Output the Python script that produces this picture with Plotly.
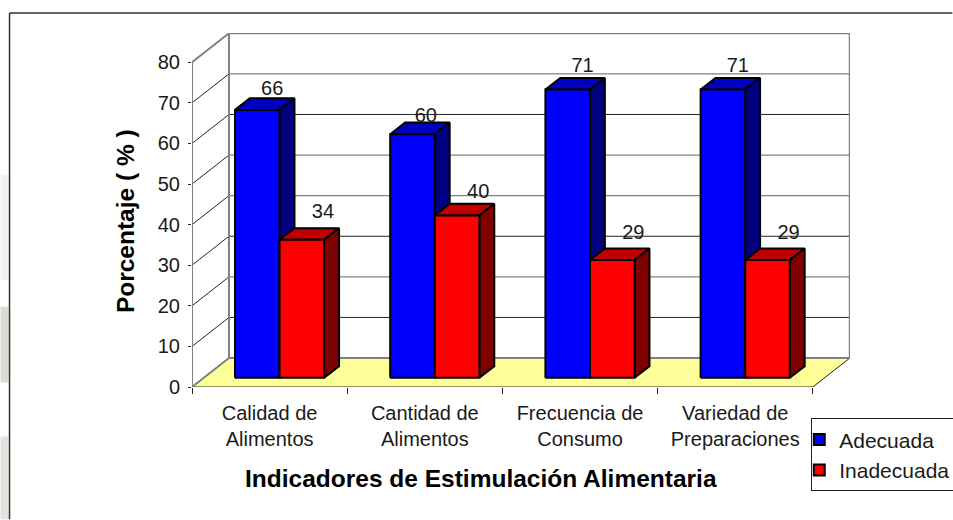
import plotly.graph_objects as go

categories = ['Calidad de<br>Alimentos', 'Cantidad de<br>Alimentos', 'Frecuencia de<br>Consumo', 'Variedad de<br>Preparaciones']
adecuada = [66, 60, 71, 71]
inadecuada = [34, 40, 29, 29]
y_ticks = [0, 10, 20, 30, 40, 50, 60, 70, 80]

W, H = 953, 520
# pixel box of the front plane + the depth of the fake 3D box
L, T, R, B = 191.7, 33, 850.5, 387.5
CAT_PX = 155.4
VAL_PX = 4.065
DX = 37 / CAT_PX
DY = 29 / VAL_PX
X_MAX = (R - L) / CAT_PX
Y_MAX = (B - T) / VAL_PX
BAR_W = 44.65 / CAT_PX
BAR_START = 31.3 / CAT_PX
D0, D1 = 0.317, 0.72
FONT = 'Liberation Sans'
INK = '#1a1a1a'


def proj(x, v, d):
    return x + d * DX, v + d * DY


def poly(points):
    xs = [p[0] for p in points] + [points[0][0], None]
    ys = [p[1] for p in points] + [points[0][1], None]
    return xs, ys


def faces(values, col):
    front, side, top = ([], []), ([], []), ([], [])
    for i, v in enumerate(values):
        x0 = i + BAR_START + col * BAR_W
        x1 = x0 + BAR_W
        f = poly([proj(x0, 0, D0), proj(x1, 0, D0), proj(x1, v, D0), proj(x0, v, D0)])
        s = poly([proj(x1, 0, D0), proj(x1, 0, D1), proj(x1, v, D1), proj(x1, v, D0)])
        t = poly([proj(x0, v, D0), proj(x1, v, D0), proj(x1, v, D1), proj(x0, v, D1)])
        for acc, part in ((front, f), (side, s), (top, t)):
            acc[0].extend(part[0])
            acc[1].extend(part[1])
    return front, side, top


def add_poly(fig, xy, color, line='black', width=2):
    fig.add_trace(go.Scatter(x=xy[0], y=xy[1], mode='lines', fill='toself', fillcolor=color,
                             line=dict(color=line, width=width), showlegend=False, hoverinfo='skip'))


def add_line(fig, xs, ys, color, width):
    fig.add_trace(go.Scatter(x=xs, y=ys, mode='lines', line=dict(color=color, width=width),
                             showlegend=False, hoverinfo='skip'))


def px_x(p):
    return (p - L) / (R - L)


def px_y(p):
    return (B - p) / (B - T)


fig = go.Figure()

# floor
n = len(categories)
add_poly(fig, poly([proj(0, 0, 0), proj(n, 0, 0), proj(n, 0, 1), proj(0, 0, 1)]), '#FFFF99', '#222222', 1)

# walls and gridlines, colours alternate in the source because of its scaling
grid_colors = {10: '#222222', 20: '#808080', 30: '#222222', 40: '#808080', 50: '#808080', 60: '#222222', 70: '#808080'}
for v in y_ticks[1:-1]:
    a, b, c = proj(0, v, 0), proj(0, v, 1), proj(n, v, 1)
    add_line(fig, [a[0], b[0]], [a[1], b[1]], '#222222', 1)
    add_line(fig, [b[0], c[0]], [b[1], c[1]], grid_colors[v], 1.3 if grid_colors[v] == '#808080' else 1)

a, b, c, d = proj(0, 80, 0), proj(0, 80, 1), proj(n, 80, 1), proj(n, 0, 1)
e, f = proj(0, 0, 1), proj(0, 0, 0)
add_line(fig, [f[0], a[0], b[0], c[0], d[0], e[0], b[0]], [f[1], a[1], b[1], c[1], d[1], e[1], b[1]], '#808080', 2)
add_line(fig, [f[0], e[0]], [f[1], e[1]], '#808080', 2)

# bars, blue first because red covers its side face
for values, col, colors in ((adecuada, 0, ('#0000FF', '#000080', '#0000C0')),
                            (inadecuada, 1, ('#FF0000', '#800000', '#C00000'))):
    front, side, top = faces(values, col)
    add_poly(fig, top, colors[2])
    add_poly(fig, side, colors[1])
    add_poly(fig, front, colors[0])

# value labels, excel left them slightly off the bar tops
label_dy = [[-0.5, -1.2, 0.2, 0.2], [1.3, 0.3, 1.0, 1.0]]
label_dx = [[0, -0.01, 0, 0], [0.04, 0.04, 0.04, 0.04]]
for col, values in enumerate((adecuada, inadecuada)):
    xs, ys = [], []
    for i, v in enumerate(values):
        x0 = i + BAR_START + col * BAR_W + BAR_W / 2
        px, py = proj(x0, v, D1)
        xs.append(px + label_dx[col][i])
        ys.append(py + label_dy[col][i])
    fig.add_trace(go.Scatter(x=xs, y=ys, mode='text', text=[str(v) for v in values], textposition='top center',
                             textfont=dict(family=FONT, size=20, color=INK), showlegend=False, hoverinfo='skip'))

# legend swatches
for name, color in (('Adecuada', '#0000FF'), ('Inadecuada', '#FF0000')):
    fig.add_trace(go.Scatter(x=[None], y=[None], mode='markers', name=name,
                             marker=dict(symbol='square', size=11, color=color, line=dict(color='black', width=2))))

fig.update_layout(
    width=W, height=H, autosize=False,
    margin=dict(l=L, r=W - R, t=T, b=H - B, pad=0, autoexpand=False),
    plot_bgcolor='white', paper_bgcolor='white',
    font=dict(family=FONT, size=20, color=INK),
    legend=dict(x=px_x(811.7), y=px_y(419), xanchor='left', yanchor='top', bgcolor='white',
                bordercolor='#222222', borderwidth=1, font=dict(size=21), indentation=-13, tracegroupgap=0),
)
fig.update_xaxes(range=[0, X_MAX], tickmode='array', tickvals=[i + 0.5 for i in range(n)], ticktext=categories,
                 showgrid=False, zeroline=False, showline=False, ticks='outside', ticklen=8,
                 tickcolor='rgba(0,0,0,0)', tickfont=dict(size=20),
                 minor=dict(tickmode='array', tickvals=list(range(n + 1)), ticks='outside', ticklen=6,
                            tickcolor='#222222', tickwidth=1, showgrid=False))
fig.update_yaxes(range=[0, Y_MAX], tickmode='array', tickvals=y_ticks, showgrid=False, zeroline=False, showline=False,
                 ticks='outside', ticklen=7, tickcolor='rgba(0,0,0,0)', tickfont=dict(size=20),
                 minor=dict(tickmode='array', tickvals=y_ticks, ticks='outside', ticklen=3,
                            tickcolor='#222222', tickwidth=1, showgrid=False))

fig.add_annotation(text='<b>Porcentaje ( % )</b>', xref='paper', yref='paper', x=px_x(125), y=px_y(221),
                   xanchor='center', yanchor='middle', textangle=-90, showarrow=False,
                   font=dict(size=24.5, color='black'))
fig.add_annotation(text='<b>Indicadores de Estimulación Alimentaria</b>', xref='paper', yref='paper',
                   x=px_x(481), y=px_y(479), xanchor='center', yanchor='middle', showarrow=False,
                   font=dict(size=24.5, color='black'))

# chart border, runs off the page on the right and bottom, plus the watermark scraps left of it
fig.add_shape(type='line', xref='paper', yref='paper', x0=px_x(9), x1=px_x(W), y0=px_y(13), y1=px_y(13),
              line=dict(color='#333333', width=1.5))
fig.add_shape(type='line', xref='paper', yref='paper', x0=px_x(9), x1=px_x(9), y0=px_y(13), y1=px_y(H),
              line=dict(color='#333333', width=1.5))
for x1, y0, y1, color in ((8, 175, 280, '#F3F4F1'), (8, 307, 383, '#D8DDD4'), (8, 437, 520, '#E2E5DE')):
    fig.add_shape(type='rect', xref='paper', yref='paper', x0=px_x(0), x1=px_x(x1), y0=px_y(y0), y1=px_y(y1),
                  line=dict(width=0), fillcolor=color, layer='below')

fig.write_html("out.html", config=dict(displayModeBar=False), post_script="document.body.style.margin='0';")
